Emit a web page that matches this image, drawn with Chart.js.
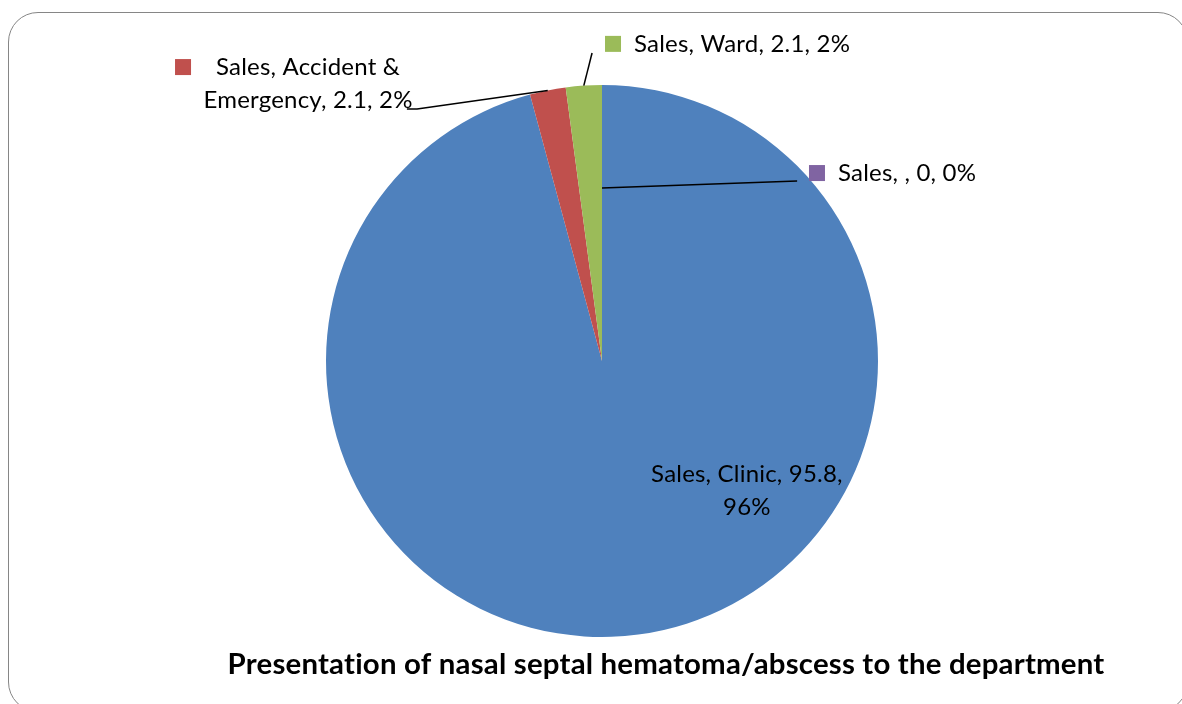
<!DOCTYPE html>
<html>
<head>
<meta charset="utf-8">
<script src="https://cdn.jsdelivr.net/npm/chart.js@4/dist/chart.umd.min.js"></script>
<style>
	html, body { margin: 0; padding: 0; background: #fff; overflow: hidden; }
	#wrap { position: relative; width: 1182px; height: 704px; }
	#frame {
		position: absolute; left: 8px; top: 12px; width: 1180px; height: 700px;
		border: 1.5px solid #868686; border-radius: 30px; box-sizing: border-box;
	}
	canvas { position: absolute; left: 0; top: 0; }
</style>
</head>
<body>
<div id="wrap">
	<div id="frame"></div>
	<canvas id="chart" width="1182" height="704"></canvas>
</div>
<script>
const seriesName = 'Sales';
const categories = ['Clinic', 'Accident & Emergency', 'Ward', ''];
const values = [95.8, 2.1, 2.1, 0];
const chartTitle = 'Presentation of nasal septal hematoma/abscess to the department';

const colors = ['#4f81bd', '#c0504d', '#9bbb59', '#8064a2'];
const fontFamily = 'Lato, "Liberation Sans", sans-serif';

// where each data label sits, in units of the pie radius from its centre
const labelLayout = [
	{ split: 'Clinic, 95.8,', align: 'center', x: 0.525, y: 0.438, lineGap: 33, marker: false },
	{ split: 'Accident &', align: 'center', x: -1.065, y: -1.036, lineGap: 33, marker: true,
		leader: [[-0.670, -0.913], [-0.707, -0.913]] },
	{ align: 'left', x: 0.116, y: -1.120, marker: true,
		leader: [[-0.036, -1.116]] },
	{ align: 'left', x: 0.855, y: -0.652, marker: true,
		leaderFrom: [0, -0.627], leader: [[0.707, -0.652]] },
];

const total = values.reduce((a, b) => a + b, 0);

function labelText(i) {
	const pct = Math.round((values[i] / total) * 100) + '%';
	return `${seriesName}, ${categories[i]}, ${values[i]}, ${pct}`;
}

// pick a font size so that a string comes out at the wanted width
function fitSize(ctx, text, weight, width) {
	ctx.font = `${weight} 20px ${fontFamily}`;
	return 20 * width / ctx.measureText(text).width;
}

const labelPlugin = {
	id: 'pieLabels',
	afterDraw(chart) {
		const ctx = chart.ctx;
		const meta = chart.getDatasetMeta(0);
		const arc0 = meta.data[0];
		const cx = arc0.x;
		const cy = arc0.y;
		const r = arc0.outerRadius;
		ctx.save();
		// a hair of letter spacing keeps the font from joining "ti" into a ligature
		ctx.letterSpacing = '0.2px';
		const labelSize = fitSize(ctx, labelText(2), 'normal', 0.786 * r);
		const titleSize = fitSize(ctx, chartTitle, 'bold', 3.2 * r);
		ctx.font = `normal ${labelSize}px ${fontFamily}`;
		ctx.fillStyle = '#000';
		ctx.strokeStyle = '#000';
		ctx.lineWidth = 1.5;
		ctx.textBaseline = 'alphabetic';

		labelLayout.forEach((lay, i) => {
			const arc = meta.data[i];
			// leader line
			if (lay.leader) {
				let start;
				if (lay.leaderFrom) {
					start = [cx + lay.leaderFrom[0] * r, cy + lay.leaderFrom[1] * r];
				} else {
					const mid = (arc.startAngle + arc.endAngle) / 2;
					start = [cx + Math.cos(mid) * r, cy + Math.sin(mid) * r];
				}
				ctx.beginPath();
				ctx.moveTo(start[0], start[1]);
				lay.leader.forEach(p => ctx.lineTo(cx + p[0] * r, cy + p[1] * r));
				ctx.stroke();
			}

			const full = labelText(i);
			let lines = [full];
			if (lay.split) {
				const k = full.indexOf(lay.split) + lay.split.length;
				lines = [full.slice(0, k), full.slice(k).trim()];
			}
			const x = cx + lay.x * r;
			const y = cy + lay.y * r;
			lines.forEach((line, li) => {
				const w = ctx.measureText(line).width;
				const left = lay.align === 'center' ? x - w / 2 : x;
				const by = y + li * (lay.lineGap || 0);
				ctx.fillStyle = '#000';
				ctx.fillText(line, left, by);
				if (lay.marker && li === 0) {
					ctx.fillStyle = colors[i];
					ctx.fillRect(left - (lay.align === 'center' ? 41 : 29), by - 16, 16, 16);
				}
			});
		});

		ctx.font = `bold ${titleSize}px ${fontFamily}`;
		ctx.fillStyle = '#000';
		ctx.textAlign = 'center';
		ctx.fillText(chartTitle, cx + 0.232 * r, cy + 1.133 * r);
		ctx.restore();
	},
};

new Chart(document.getElementById('chart'), {
	type: 'pie',
	data: {
		labels: categories,
		datasets: [{
			data: values,
			backgroundColor: colors,
			borderWidth: 0,
			hoverOffset: 0,
		}],
	},
	plugins: [labelPlugin],
	options: {
		responsive: false,
		animation: false,
		events: [],
		layout: {
			padding: { left: 326, right: 304, top: 85, bottom: 67 },
		},
		plugins: {
			legend: { display: false },
			tooltip: { enabled: false },
			title: { display: false },
		},
	},
});
</script>
</body>
</html>
